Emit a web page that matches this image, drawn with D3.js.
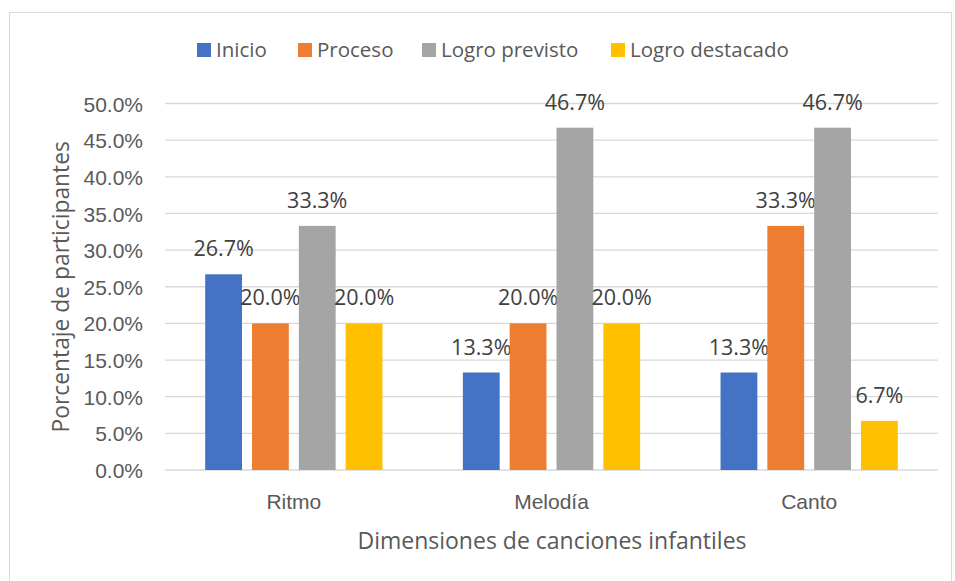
<!DOCTYPE html>
<html><head><meta charset="utf-8">
<script src="https://cdn.jsdelivr.net/npm/d3@7"></script>
<style>body{margin:0;background:#fff}svg{display:block;font-family:"Open Sans","Noto Sans",sans-serif}</style>
</head><body><svg id="c" width="955" height="581"></svg>
<script>
const categories = ["Ritmo", "Melodía", "Canto"];
const seriesNames = ["Inicio", "Proceso", "Logro previsto", "Logro destacado"];
const seriesColors = ["#4472C4", "#ED7D31", "#A5A5A5", "#FFC000"];
const inicio = [26.7, 13.3, 13.3];
const proceso = [20.0, 20.0, 33.3];
const logroPrevisto = [33.3, 46.7, 46.7];
const logroDestacado = [20.0, 20.0, 6.7];
const yTicks = [0, 5, 10, 15, 20, 25, 30, 35, 40, 45, 50];
const seriesValues = [inicio, proceso, logroPrevisto, logroDestacado];

const svg = d3.select("#c");
const txt = "#595959";
svg.append("rect").attr("x", 9.5).attr("y", 12.5).attr("width", 942).attr("height", 600)
  .attr("fill", "none").attr("stroke", "#D9D9D9");

const L = 165, R = 938, T = 103.5, B = 470;
const y = d3.scaleLinear().domain([0, 50]).range([B, T]);
const x0 = d3.scaleBand().domain(categories).range([L, R]).paddingInner(0.312).paddingOuter(0.156);
const x1 = d3.scaleBand().domain(seriesNames).range([0, x0.bandwidth()]).paddingInner(0.214);

// gridlines
svg.append("g").selectAll("line").data(yTicks).join("line")
  .attr("x1", L).attr("x2", R).attr("y1", d => y(d)).attr("y2", d => y(d))
  .attr("stroke", "#D9D9D9").attr("stroke-width", 1.3);

// y axis labels
const yAxis = d3.axisLeft(y).tickValues(yTicks).tickFormat(d => d.toFixed(1) + "%").tickSize(0).tickPadding(0);
const ya = svg.append("g").attr("transform", `translate(${L - 22},0)`).call(yAxis);
ya.select(".domain").remove();
ya.selectAll("text").attr("fill", txt).style("font-size", "21px").attr("dy", "0.36em");

// x axis labels
const xAxis = d3.axisBottom(x0).tickSize(0).tickPadding(0);
const xa = svg.append("g").attr("transform", `translate(0,${B + 39})`).call(xAxis);
xa.select(".domain").remove();
xa.selectAll("text").attr("fill", txt).style("font-size", "21px").attr("y", 0).attr("dy", 0);

// bars
const groups = svg.append("g").selectAll("g").data(categories).join("g")
  .attr("transform", d => `translate(${x0(d)},0)`);
groups.each(function(cat, ci) {
  const g = d3.select(this);
  seriesNames.forEach((s, si) => {
    const v = seriesValues[si][ci];
    g.append("rect").attr("x", x1(s)).attr("width", x1.bandwidth())
      .attr("y", y(v)).attr("height", y(0) - y(v)).attr("fill", seriesColors[si]);
    g.append("text").attr("x", x1(s) + x1.bandwidth() / 2).attr("y", y(v) - 18)
      .attr("text-anchor", "middle").attr("fill", "#404040").style("font-size", "21.5px")
      .text(v.toFixed(1) + "%");
  });
});

// axis titles
svg.append("text").attr("transform", `translate(69,${(T + B) / 2}) rotate(-90)`)
  .attr("text-anchor", "middle").attr("fill", txt).style("font-size", "22.8px")
  .text("Porcentaje de participantes");
svg.append("text").attr("x", 552).attr("y", 549).attr("text-anchor", "middle")
  .attr("fill", txt).style("font-size", "23px").text("Dimensiones de canciones infantiles");

// legend
const legendX = [197, 298, 422, 611];
const lg = svg.append("g").selectAll("g").data(seriesNames).join("g")
  .attr("transform", (d, i) => `translate(${legendX[i]},50)`);
lg.append("rect").attr("x", 0).attr("y", -7).attr("width", 14).attr("height", 14)
  .attr("fill", (d, i) => seriesColors[i]);
lg.append("text").attr("x", 19).attr("dy", "0.36em").attr("fill", txt)
  .style("font-size", "20.5px").text(d => d);
</script></body></html>
